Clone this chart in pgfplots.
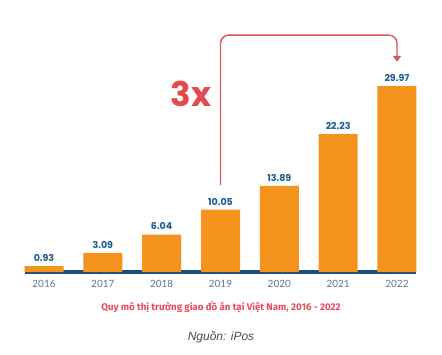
\documentclass[border=0pt]{standalone}
\usepackage{pgfplots}
\pgfplotsset{compat=1.18}
\usetikzlibrary{arrows.meta}
\usepackage{fontspec}
\setmainfont{Liberation Sans}
\newfontfamily\numfont{Poppins}
\newfontfamily\capfont{Fira Sans}
\newfontfamily\yearfont{Lato}
\definecolor{barorange}{HTML}{F5931F}
\definecolor{lblblue}{HTML}{1E5A96}
\definecolor{axnavy}{HTML}{1A4C7C}
\definecolor{capred}{HTML}{E8495A}
\definecolor{arrred}{HTML}{D9555E}
\definecolor{threex}{HTML}{E5484D}
\definecolor{yeargray}{HTML}{5A7494}
\begin{document}
\begin{tikzpicture}[x=1pt,y=1pt]
\path[use as bounding box] (0,0) rectangle (442,354);
\begin{axis}[
  at={(25pt,82pt)}, anchor=south west,
  scale only axis, width=391pt, height=198.4pt,
  xmin=-0.323, xmax=6.323, ymin=0, ymax=32,
  axis y line=none, axis x line*=bottom,
  axis line style={axnavy, line width=3.2pt, -},
  xtick={0,...,6}, xticklabels={2016,2017,2018,2019,2020,2021,2022},
  major tick length=0pt,
  xticklabel style={font=\yearfont\fontsize{10}{12}\selectfont, text=yeargray, yshift=-5pt},
  ybar, bar width=39pt,
  clip=false,
  nodes near coords,
  nodes near coords style={font=\numfont\bfseries\fontsize{9.5}{11}\selectfont, text=lblblue, yshift=1pt},
  point meta=explicit symbolic,
]
\addplot[fill=barorange, draw=none, bar shift=0pt] coordinates {
  (0,0.93) [0.93] (1,3.09) [3.09] (2,6.04) [6.04] (3,10.05) [10.05]
  (4,13.89) [13.89] (5,22.23) [22.23] (6,29.97) [29.97]
};
\draw[arrred, line width=1.4pt, rounded corners=8pt, -{Triangle[width=8pt,length=6pt]}] (axis cs:3,14.0) -- (axis cs:3,38.2) -- (axis cs:6,38.2) -- (axis cs:6,33.9);
\end{axis}
\node[font=\numfont\bfseries\fontsize{34}{36}\selectfont, text=threex] at (191,260) {3x};
\node[font=\capfont\bfseries\fontsize{9.7}{11}\selectfont, text=capred] at (221,47) {Quy mô thị trường giao đồ ăn tại Việt Nam, 2016 - 2022};
\node[font=\itshape\fontsize{12}{14}\selectfont, text=black!70] at (221,17) {Nguồn: iPos};
\end{tikzpicture}
\end{document}
